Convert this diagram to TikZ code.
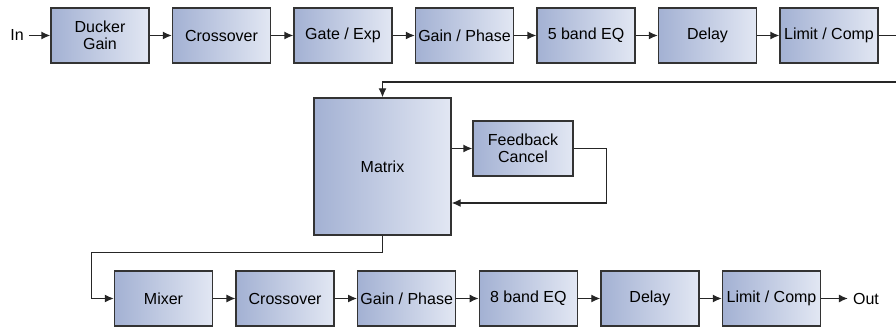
\documentclass[tikz,border=0pt]{standalone}
\usepackage{fontspec}
\setmainfont{Liberation Sans}
\usetikzlibrary{arrows.meta}
\definecolor{blockdark}{RGB}{163,177,211}
\definecolor{blocklight}{RGB}{226,231,243}
\tikzset{
  block/.style={draw=black!80,line width=1.3pt,left color=blockdark,right color=blocklight,
    minimum width=98pt,minimum height=55pt,inner sep=0pt,align=center},
  link/.style={->,line width=1.3pt,draw=black!85},
  wire/.style={line width=1.3pt,draw=black!85}
}
\begin{document}
\begin{tikzpicture}[x=1pt,y=1pt,>={Latex[length=9pt,width=8pt]},font=\fontsize{16}{17.5}\selectfont]
\useasboundingbox (0,0) rectangle (896,329);
% The input chain
\node[inner sep=5pt] (in) at (17,293.5) {In};
\foreach \txt [count=\i] in {Ducker\\Gain, Crossover, {Gate / Exp}, {Gain / Phase}, 5 band EQ, Delay, {Limit / Comp}}
  \node[block] (t\i) at ({100+(\i-1)*121.5},293.5) {\txt};
\draw[link] (in) -- (t1);
\foreach \i [count=\j from 2] in {1,...,6}
  \draw[link] (t\i) -- (t\j);
\coordinate (edgeout) at (896,293.5);
\coordinate (edgein) at (896,247);
\draw[wire] (t7) -- (edgeout);
% The matrix and feedback loop
\node[block,minimum width=137pt,minimum height=137pt] (mat) at (382.5,162.5) {Matrix};
\node[block,minimum width=100pt] (fb) at (523,180.5) {Feedback\\Cancel};
\draw[link] (edgein) -| (mat);
\draw[link] (mat.east |- fb.west) -- (fb.west);
\draw[link] (fb.east) -- ++(33,0) |- ([yshift=-36.5pt]mat.east);
% The output chain
\foreach \txt [count=\i] in {Mixer, Crossover, {Gain / Phase}, 8 band EQ, Delay, {Limit / Comp}}
  \node[block] (b\i) at ({163.5+(\i-1)*121.6},30.5) {\txt};
\node[inner sep=5pt] (out) at (866,30.5) {Out};
\draw[link] (mat.south) -- ++(0,-17) -| ([xshift=-22.5pt]b1.west) -- (b1.west);
\foreach \i [count=\j from 2] in {1,...,5}
  \draw[link] (b\i) -- (b\j);
\draw[link] (b6) -- (out);
\end{tikzpicture}
\end{document}
